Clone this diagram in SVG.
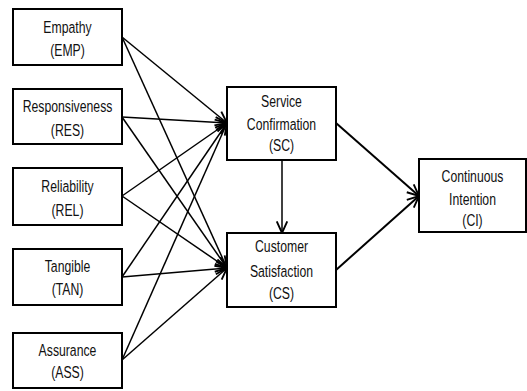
<svg xmlns="http://www.w3.org/2000/svg" width="527" height="391" viewBox="0 0 527 391">
<style>
.box{fill:#fff;stroke:#000;stroke-width:2}
.t{font-family:"Liberation Sans",Arial,sans-serif;font-size:17px;fill:#111;text-anchor:middle}
.c{stroke:#000;stroke-width:1.5;fill:none;marker-end:url(#ah)}
.c2{stroke:#000;stroke-width:2;fill:none;marker-end:url(#ah)}
</style>
<defs>
<marker id="ah" markerUnits="userSpaceOnUse" markerWidth="14" markerHeight="14" refX="11" refY="5" orient="auto" viewBox="0 0 12 10">
<path d="M1,0.5 L11,5 L1,9.5" fill="none" stroke="#000" stroke-width="1.6"/>
</marker>
</defs>
<rect width="527" height="391" fill="#fff"/>
<g id="connectors">
<line class="c" x1="122" y1="37" x2="227" y2="123"/>
<line class="c" x1="122" y1="37" x2="227" y2="268"/>
<line class="c" x1="122" y1="117" x2="227" y2="123"/>
<line class="c" x1="122" y1="117" x2="227" y2="268"/>
<line class="c" x1="122" y1="196" x2="227" y2="123"/>
<line class="c" x1="122" y1="196" x2="227" y2="268"/>
<line class="c" x1="122" y1="277" x2="227" y2="123"/>
<line class="c" x1="122" y1="277" x2="227" y2="268"/>
<line class="c" x1="122" y1="360" x2="227" y2="123"/>
<line class="c" x1="122" y1="360" x2="227" y2="268"/>
<line class="c" x1="282" y1="160" x2="282" y2="233"/>
<line class="c2" x1="336" y1="123" x2="419" y2="196"/>
<line class="c2" x1="336" y1="270" x2="419" y2="196"/>
</g>
<g id="EMP">
<rect class="box" x="13" y="9" width="109" height="56"/>
<text class="t" transform="translate(67.5,33) scale(0.72,1)">Empathy</text>
<text class="t" transform="translate(67.5,56) scale(0.72,1)">(EMP)</text>
</g>
<g id="RES">
<rect class="box" x="13" y="89" width="109" height="55"/>
<text class="t" transform="translate(67.5,112) scale(0.72,1)">Responsiveness</text>
<text class="t" transform="translate(67.5,136) scale(0.72,1)">(RES)</text>
</g>
<g id="REL">
<rect class="box" x="13" y="168" width="109" height="57"/>
<text class="t" transform="translate(67.5,192) scale(0.72,1)">Reliability</text>
<text class="t" transform="translate(67.5,216) scale(0.72,1)">(REL)</text>
</g>
<g id="TAN">
<rect class="box" x="13" y="249" width="109" height="56"/>
<text class="t" transform="translate(67.5,272) scale(0.72,1)">Tangible</text>
<text class="t" transform="translate(67.5,295) scale(0.72,1)">(TAN)</text>
</g>
<g id="ASS">
<rect class="box" x="13" y="333" width="109" height="55"/>
<text class="t" transform="translate(67.5,356) scale(0.72,1)">Assurance</text>
<text class="t" transform="translate(67.5,378) scale(0.72,1)">(ASS)</text>
</g>
<g id="SC">
<rect class="box" x="227" y="87" width="109" height="73"/>
<text class="t" transform="translate(281.5,107) scale(0.72,1)">Service</text>
<text class="t" transform="translate(281.5,130) scale(0.72,1)">Confirmation</text>
<text class="t" transform="translate(281.5,151) scale(0.72,1)">(SC)</text>
</g>
<g id="CS">
<rect class="box" x="227" y="233" width="109" height="74"/>
<text class="t" transform="translate(281.5,252) scale(0.72,1)">Customer</text>
<text class="t" transform="translate(281.5,277) scale(0.72,1)">Satisfaction</text>
<text class="t" transform="translate(281.5,299) scale(0.72,1)">(CS)</text>
</g>
<g id="CI">
<rect class="box" x="419" y="159" width="107" height="73"/>
<text class="t" transform="translate(472.5,182) scale(0.72,1)">Continuous</text>
<text class="t" transform="translate(472.5,205) scale(0.72,1)">Intention</text>
<text class="t" transform="translate(472.5,226) scale(0.72,1)">(CI)</text>
</g>
</svg>
